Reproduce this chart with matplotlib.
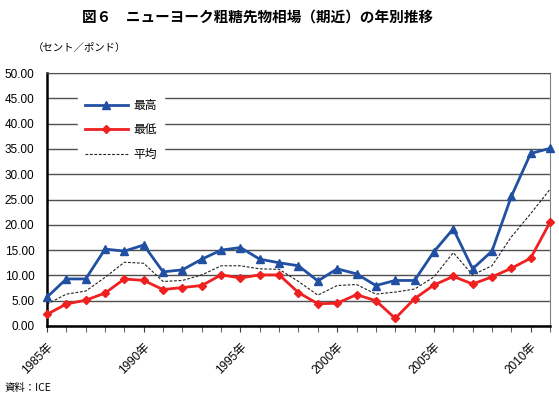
import matplotlib
matplotlib.use("Agg")
import matplotlib.pyplot as plt
import numpy as np

plt.rcParams['font.family'] = ['Noto Sans CJK JP', 'DejaVu Sans']
tickfont = ['Liberation Sans', 'Noto Sans CJK JP']

years = list(range(1985, 2012))
high = [5.7, 9.3, 9.3, 15.2, 14.8, 16.0, 10.7, 11.1, 13.2, 15.0, 15.5, 13.2, 12.5,
        11.9, 8.9, 11.3, 10.3, 8.0, 9.0, 9.0, 14.7, 19.2, 11.3, 14.8, 25.6, 34.1, 35.1]
low = [2.3, 4.35, 5.1, 6.5, 9.3, 9.0, 7.2, 7.6, 8.0, 10.1, 9.5, 10.1, 10.1,
       6.6, 4.4, 4.5, 6.2, 5.0, 1.5, 5.4, 8.1, 9.8, 8.3, 9.7, 11.4, 13.4, 20.5]
avg = [4.3, 6.3, 6.9, 9.6, 12.6, 12.4, 8.8, 9.0, 10.1, 11.9, 11.9, 11.3, 11.2,
       8.8, 6.1, 8.0, 8.2, 6.3, 6.7, 7.3, 9.7, 14.5, 10.1, 11.9, 17.6, 22.2, 27.0]
tick_years = [1985, 1990, 1995, 2000, 2005, 2010]
tick_labels = ['1985年', '1990年', '1995年', '2000年', '2005年', '2010年']

fig = plt.figure(figsize=(5.59, 3.98), dpi=100)
ax = fig.add_axes([47/559, 1-326/398, (550-47)/559, (326-73)/398])

ax.set_xlim(years[0], years[-1])
ax.set_ylim(0, 50)
ax.set_yticks(np.arange(0, 50.01, 5))
ax.set_yticklabels([f"{v:.2f}" for v in np.arange(0, 50.01, 5)], fontsize=8.5, family=tickfont)
ax.yaxis.grid(True, color='#505050', lw=1.0)
ax.set_axisbelow(True)
ax.tick_params(axis='y', length=0, pad=9)

ax.set_xticks(years, minor=True)
ax.set_xticks(tick_years)
ax.set_xticklabels(tick_labels, rotation=45, ha='right', rotation_mode='anchor', fontsize=8.5, family=tickfont)
ax.tick_params(axis='x', which='both', direction='out', length=4, color='#404040', pad=7)

for s in ['left', 'bottom']:
    ax.spines[s].set_linewidth(1.8)
    ax.spines[s].set_color('black')
ax.spines['top'].set_color('#505050')
ax.spines['right'].set_color('#808080')

l1, = ax.plot(years, high, color='#2150A2', lw=2, marker='^', ms=6, label='最高', clip_on=False, zorder=4)
l2, = ax.plot(years, low, color='#F02020', lw=2, marker='D', ms=4.3, label='最低', clip_on=False, zorder=4)
l3, = ax.plot(years, avg, color='#222222', lw=0.8, ls=(0, (2.5, 1.5)), label='平均', zorder=3)

leg = ax.legend(handles=[l1, l2, l3], loc='upper left', bbox_to_anchor=(0.05, 0.95),
                frameon=True, fancybox=False, edgecolor='white', facecolor='white', framealpha=1,
                fontsize=8.5, handlelength=3.6, handletextpad=0.5, labelspacing=1.0, borderpad=0.6,
                markerscale=0.85)
leg.set_zorder(5)

fig.text(257/559, 1-17/398, '図６　ニューヨーク粗糖先物相場（期近）の年別推移', ha='center', va='center',
         fontsize=10.5, fontweight='bold')
fig.text(33/559, 1-48/398, '（セント／ポンド）', ha='left', va='center', fontsize=7.5)
fig.text(5/559, 1-388/398, '資料：ICE', ha='left', va='center', fontsize=7.5)

fig.savefig('out.png', dpi=100)
